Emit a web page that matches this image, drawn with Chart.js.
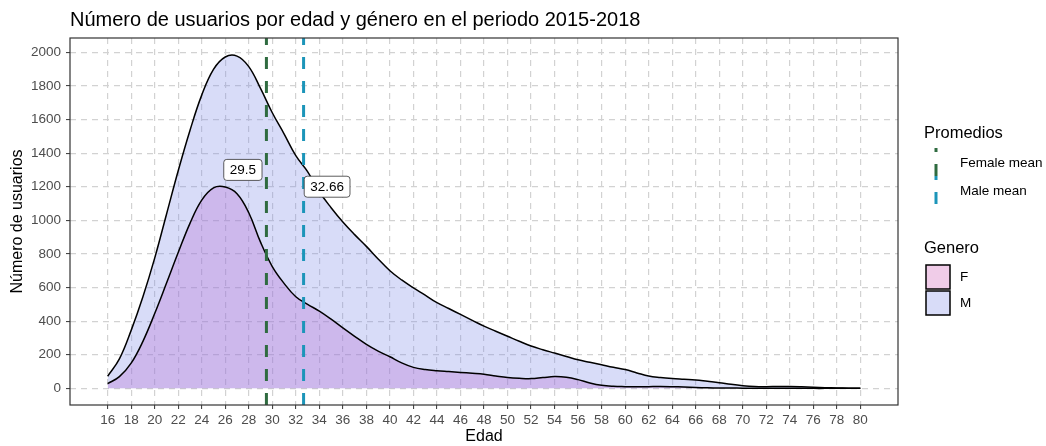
<!DOCTYPE html>
<html>
<head>
<meta charset="utf-8">
<script src="https://cdn.jsdelivr.net/npm/chart.js@4/dist/chart.umd.min.js"></script>
<style>
  html, body { margin: 0; padding: 0; background: #fff; }
  #wrap { position: relative; width: 1046px; height: 446px; }
</style>
</head>
<body>
<div id="wrap"><canvas id="chart" width="1046" height="446"></canvas></div>
<script>
const ages = [16, 17, 18, 19, 20, 21, 22, 23, 24, 25, 26, 27, 28, 29, 30, 31, 32, 33, 34, 35, 36, 37, 38, 39, 40,
  41, 42, 43, 44, 45, 46, 47, 48, 49, 50, 51, 52, 53, 54, 55, 56, 57, 58, 59, 60, 61, 62, 63, 64, 65, 66, 67, 68, 69, 70,
  71, 72, 73, 74, 75, 76, 77, 78, 79, 80];
const maleUsers = [72, 175, 345, 545, 775, 1035, 1295, 1535, 1745, 1898, 1972, 1977, 1915, 1785, 1640, 1515, 1385, 1290, 1170, 1075, 990, 915, 845, 770, 700,
  645, 598, 555, 510, 475, 440, 405, 370, 340, 310, 280, 252, 230, 210, 190, 170, 155, 140, 125, 112, 92, 73, 64, 58, 54, 50, 42, 34, 24, 16,
  11, 10, 11, 11, 9, 6, 4, 2, 1, 0];
const femaleUsers = [28, 70, 150, 280, 445, 625, 808, 982, 1120, 1193, 1198, 1158, 1045, 870, 725, 625, 545, 500, 460, 412, 360, 310, 262, 222, 188,
  152, 125, 112, 105, 100, 95, 90, 84, 74, 65, 60, 58, 64, 70, 66, 52, 32, 18, 12, 10, 9, 10, 11, 10, 8, 5, 3, 2, 2, 1,
  1, 1, 1, 1, 1, 0, 0, 0, 0, 0];
const xTicks = [16, 18, 20, 22, 24, 26, 28, 30, 32, 34, 36, 38, 40, 42, 44, 46, 48, 50, 52, 54, 56, 58, 60, 62, 64, 66, 68, 70, 72, 74, 76, 78, 80];
const yTicks = [0, 200, 400, 600, 800, 1000, 1200, 1400, 1600, 1800, 2000];
const meanNames = ['Female mean', 'Male mean'];
const meanValues = [29.5, 32.66];
const meanLabelText = ['29.5', '32.66'];
const meanLabelX = [27.5, 34.66];
const meanLabelY = [1300, 1200];
const genders = ['F', 'M'];

const xMin = 12.8, xMax = 83.2, yMin = -99, yMax = 2085;
const FONT = '"Liberation Sans", Arial, sans-serif';
const meanColors = ['#2f6b40', '#1c95b9'];
const genderFill = ['rgba(179, 103, 208, 0.3)', 'rgba(125, 138, 232, 0.3)'];
const genderKey = ['#f0cce8', '#d8dcf8'];

const toPoints = (vals) => vals.map((v, i) => ({ x: ages[i], y: v }));

const densityStyle = {
  borderColor: '#000',
  borderWidth: 1.5,
  pointRadius: 0,
  fill: 'origin',
  tension: 0.4
};

const datasets = [
  { ...densityStyle, label: 'M', data: toPoints(maleUsers), backgroundColor: genderFill[1], order: 3 },
  { ...densityStyle, label: 'F', data: toPoints(femaleUsers), backgroundColor: genderFill[0], order: 2 }
];
meanValues.forEach((m, i) => {
  datasets.push({
    label: meanNames[i],
    data: [{ x: m, y: yMin }, { x: m, y: yMax }],
    borderColor: meanColors[i],
    borderWidth: 3,
    borderDash: [12, 12],
    pointRadius: 0,
    fill: false,
    order: 1 - i * 0.5
  });
});

const decor = {
  id: 'decor',
  beforeDraw(chart) {
    const ctx = chart.ctx;
    ctx.save();
    ctx.fillStyle = '#fff';
    ctx.fillRect(0, 0, chart.width, chart.height);
    ctx.restore();
  },
  afterDatasetsDraw(chart) {
    const ctx = chart.ctx;
    const xs = chart.scales.x, ys = chart.scales.y;
    ctx.save();
    ctx.font = '13.5px ' + FONT;
    ctx.textAlign = 'center';
    ctx.textBaseline = 'middle';
    meanLabelText.forEach((t, i) => {
      const cx = xs.getPixelForValue(meanLabelX[i]);
      const cy = ys.getPixelForValue(meanLabelY[i]);
      const w = ctx.measureText(t).width + 12;
      const h = 21;
      ctx.beginPath();
      ctx.roundRect(cx - w / 2, cy - h / 2, w, h, 3);
      ctx.fillStyle = '#fff';
      ctx.fill();
      ctx.lineWidth = 0.8;
      ctx.strokeStyle = '#333';
      ctx.stroke();
      ctx.fillStyle = '#000';
      ctx.fillText(t, cx, cy + 0.5);
    });
    ctx.restore();
  },
  afterDraw(chart) {
    const ctx = chart.ctx;
    const a = chart.chartArea;
    ctx.save();
    // panel border
    ctx.strokeStyle = '#333';
    ctx.lineWidth = 1.2;
    ctx.strokeRect(a.left, a.top, a.right - a.left, a.bottom - a.top);

    // title
    ctx.fillStyle = '#000';
    ctx.textAlign = 'left';
    ctx.textBaseline = 'alphabetic';
    ctx.font = '20px ' + FONT;
    ctx.fillText('Número de usuarios por edad y género en el periodo 2015-2018', a.left, 25.5);

    // legend: Promedios
    const lx = 924;
    ctx.font = '16.5px ' + FONT;
    ctx.fillText('Promedios', lx, 138);
    ctx.font = '13.5px ' + FONT;
    ctx.textBaseline = 'middle';
    const keyTop = 148, keyH = 28;
    meanNames.forEach((n, i) => {
      const top = keyTop + i * keyH;
      ctx.strokeStyle = meanColors[i];
      ctx.lineWidth = 3;
      ctx.beginPath();
      ctx.moveTo(936, top);
      ctx.lineTo(936, top + 4);
      ctx.moveTo(936, top + 16);
      ctx.lineTo(936, top + keyH);
      ctx.stroke();
      ctx.fillStyle = '#000';
      ctx.fillText(n, 960, top + 15);
    });

    // legend: Genero
    ctx.textBaseline = 'alphabetic';
    ctx.font = '16.5px ' + FONT;
    ctx.fillText('Genero', lx, 253);
    ctx.font = '13.5px ' + FONT;
    ctx.textBaseline = 'middle';
    genders.forEach((g, i) => {
      const top = 265 + i * 26;
      ctx.fillStyle = genderKey[i];
      ctx.fillRect(926, top, 24, 24);
      ctx.strokeStyle = '#000';
      ctx.lineWidth = 1.5;
      ctx.strokeRect(926, top, 24, 24);
      ctx.fillStyle = '#000';
      ctx.fillText(g, 960, top + 12);
    });
    ctx.restore();
  }
};

const gridStyle = {
  color: '#d2d2d2',
  lineWidth: 1.2,
  drawTicks: true,
  tickLength: 4,
  tickColor: '#333',
  tickWidth: 1
};

new Chart(document.getElementById('chart'), {
  type: 'line',
  data: { datasets },
  options: {
    responsive: false,
    animation: false,
    devicePixelRatio: 1,
    layout: { padding: { top: 38, right: 148, left: 0, bottom: 0 } },
    plugins: { legend: { display: false }, tooltip: { enabled: false }, title: { display: false } },
    scales: {
      x: {
        type: 'linear',
        min: xMin,
        max: xMax,
        afterBuildTicks: (s) => { s.ticks = xTicks.map((v) => ({ value: v })); },
        afterFit: (s) => { s.height = 41; },
        ticks: { color: '#4d4d4d', font: { size: 13.5, family: FONT }, padding: 3, maxRotation: 0, autoSkip: false,
          callback: (v) => String(v) },
        grid: gridStyle,
        border: { display: false, dash: [6, 5] },
        title: { display: true, text: 'Edad', color: '#000', font: { size: 16, family: FONT }, padding: { top: 0, bottom: 0 } }
      },
      y: {
        type: 'linear',
        min: yMin,
        max: yMax,
        afterBuildTicks: (s) => { s.ticks = yTicks.map((v) => ({ value: v })); },
        afterFit: (s) => { s.width = 70; },
        ticks: { color: '#4d4d4d', font: { size: 13.5, family: FONT }, padding: 5, callback: (v) => String(v) },
        grid: gridStyle,
        border: { display: false, dash: [6, 5] },
        title: { display: true, text: 'Número de usuarios', color: '#000', font: { size: 16, family: FONT }, padding: { top: 8, bottom: 0 } }
      }
    }
  },
  plugins: [decor]
});
</script>
</body>
</html>
